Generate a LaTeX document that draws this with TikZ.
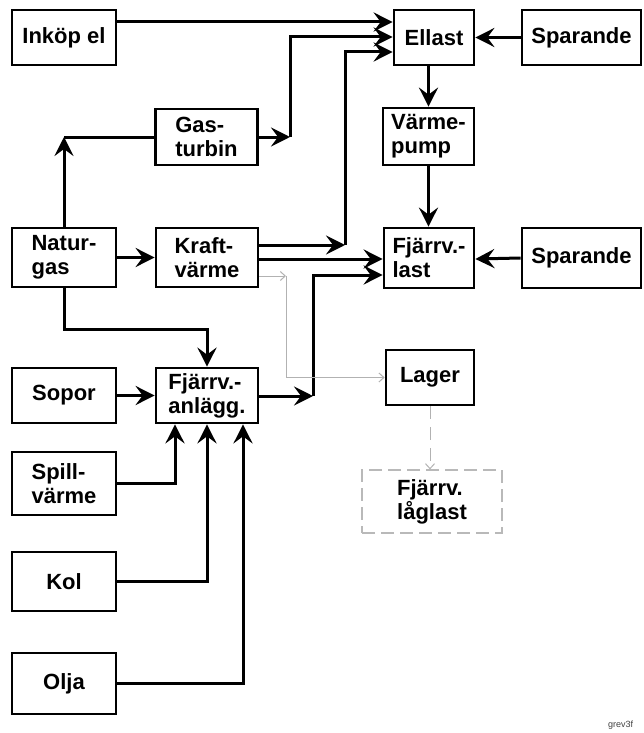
\documentclass[tikz,border=0pt]{standalone}
\usepackage{fontspec}
\setmainfont{Liberation Sans}
\usetikzlibrary{arrows.meta, positioning, calc}

\begin{document}
\begin{tikzpicture}[
    x=1pt, y=-1pt,
    nd/.style={draw, line width=2.7pt, inner sep=0pt, minimum width=104pt, minimum height=56pt, align=left, font=\fontsize{22}{24}\selectfont\bfseries},
    src/.style={nd},
    plant/.style={nd, minimum width=102pt},
    load/.style={nd, minimum width=90pt},
    save/.style={nd, minimum width=119pt},
    ghost/.style={nd, draw=gray!55, line width=1.2pt, dash pattern=on 13pt off 6pt, minimum width=140pt, minimum height=63pt},
    ln/.style={line width=3pt},
    arr/.style={ln, -{Stealth[length=19pt, width=19pt, inset=7pt]}},
    faint/.style={gray!60, line width=1pt, -{Straight Barb[length=5pt, width=9pt]}},
    tag/.style={font=\fontsize{9}{10}\selectfont, text=black!75, anchor=base west, inner sep=0pt},
]
\useasboundingbox (0,0) rectangle (643,733);

% Row 1: electricity
\node[src, minimum height=55pt] (inkop) at (64, 37.5) {Inköp el};
\node[load, minimum width=80pt, minimum height=55pt] (ellast) at (434, 37.5) {Ellast};
\node[save, minimum height=55pt] (spar1) at (581.5, 37.5) {Sparande};

% Row 2
\node[plant, minimum height=56pt] (gasturb) at (206.5, 137) {Gas-\\turbin};
\node[load, minimum width=91pt, minimum height=57pt] (vpump) at (428.5, 136.5) {Värme-\\pump};

% Row 3: natural gas and heat load
\node[src, minimum height=59pt] (natgas) at (64, 257.5) {Natur-\\gas};
\node[plant, minimum height=59pt] (kraft) at (207, 257.5) {Kraft-\\värme};
\node[load, minimum height=60pt] (fjlast) at (429, 258) {Fjärrv.-\\last};
\node[save, minimum height=60pt] (spar2) at (581.5, 258) {Sparande};

% Row 4: district heating plant
\node[src, minimum height=55pt] (sopor) at (64, 395.5) {Sopor};
\node[plant, minimum height=55pt] (fjanl) at (207, 395.5) {Fjärrv.-\\anlägg.};
\node[load, minimum width=88pt, minimum height=55pt] (lager) at (430, 377.5) {Lager};

% Fuels
\node[src, minimum height=63pt] (spill) at (64, 483.5) {Spill-\\värme};
\node[src, minimum height=59pt] (kol) at (64, 581.5) {Kol};
\node[src, minimum height=61pt] (olja) at (64, 683.5) {Olja};

% Low load (dashed)
\node[ghost] (laglast) at (432, 501.5) {Fjärrv.\\låglast};

\node[tag] (fig) at (608, 727) {grev3f};

% === ARROWS ===
% into Ellast
\draw[arr] (inkop.east |- 0,22) -- (ellast.west |- 0,22);
\coordinate (gtk) at (290, 137);
\draw[arr] (gasturb.east) -- (gtk);
\draw[arr] (gtk) |- (ellast.west |- 0,37);
\coordinate (kvk) at (345, 245);
\draw[arr] (kraft.east |- kvk) -- (kvk);
\draw[arr] (kvk) |- (ellast.west |- 0,52);
\draw[arr] (spar1.west) -- (ellast.east);

% Ellast -> heat pump -> heat load
\draw[arr] (ellast.south -| vpump.north) -- (vpump.north);
\draw[arr] (vpump.south) -- (vpump.south |- fjlast.north);

% into Fjärrv.-last
\draw[arr] (kraft.east |- 0,259) -- (fjlast.west |- 0,259);
\coordinate (fak) at (313, 396);
\draw[arr] (fjanl.east |- fak) -- (fak);
\draw[arr] (fak) |- (fjlast.west |- 0,275);
\draw[arr] (spar2.west) -- (fjlast.east |- 0,259);

% storage (grey)
\coordinate (lgk) at (286, 276);
\draw[faint] (kraft.east |- lgk) -- (lgk);
\draw[faint] (lgk) |- (lager.west);
\draw[faint, dash pattern=on 13pt off 8pt] (lager.south) -- (lager.south |- laglast.north);

% natural gas
\draw[arr] (natgas.north) -- (natgas.north |- gasturb.west);
\draw[ln] (natgas.north |- gasturb.west) -- (gasturb.west);
\draw[arr] (natgas.east) -- (kraft.west);
\draw[arr] (natgas.south) -- ++(0,41) -| (fjanl.north);

% fuels -> Fjärrv.-anlägg.
\draw[arr] (sopor.east) -- (fjanl.west);
\draw[arr] (spill.east) -| (fjanl.south -| 175,0);
\draw[arr] (kol.east) -| (fjanl.south);
\draw[arr] (olja.east) -| (fjanl.south -| 243,0);

\end{tikzpicture}
\end{document}
